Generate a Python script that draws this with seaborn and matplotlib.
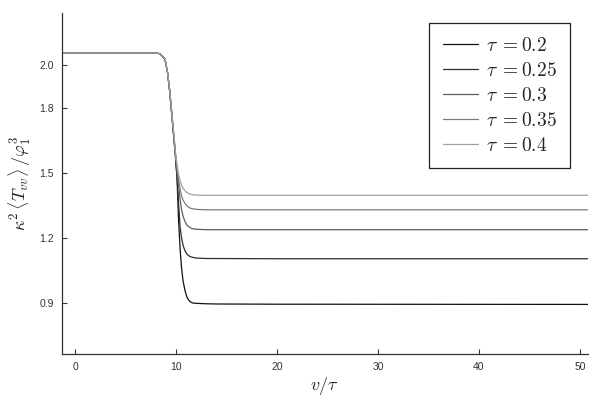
import pandas as pd
import matplotlib
matplotlib.use('Agg')
import matplotlib.pyplot as plt
import seaborn as sns

# values
v = [-1.3, 8.0, 8.4, 8.9, 9.15, 9.35, 9.5, 9.65, 9.8, 9.95, 10.1, 10.25, 10.4,
     10.55, 10.7, 10.9, 11.1, 11.35, 11.6, 12.0, 12.5, 13.0, 14.0, 20.0, 50.8]

t_02 = [2.055, 2.055, 2.052, 2.027, 1.965, 1.885, 1.81, 1.73, 1.65, 1.57, 1.47, 1.28, 1.15,
        1.06, 1.00, 0.955, 0.925, 0.908, 0.901, 0.899, 0.898, 0.897, 0.896, 0.895, 0.894]
t_025 = [2.055, 2.055, 2.052, 2.027, 1.966, 1.887, 1.812, 1.733, 1.655, 1.575, 1.48, 1.36, 1.25,
         1.20, 1.165, 1.14, 1.125, 1.116, 1.112, 1.108, 1.107, 1.106, 1.106, 1.105, 1.105]
t_03 = [2.055, 2.055, 2.052, 2.028, 1.967, 1.889, 1.815, 1.736, 1.66, 1.58, 1.50, 1.445, 1.38,
        1.33, 1.30, 1.275, 1.259, 1.25, 1.244, 1.241, 1.240, 1.239, 1.239, 1.239, 1.239]
t_035 = [2.055, 2.055, 2.052, 2.028, 1.968, 1.891, 1.817, 1.739, 1.665, 1.585, 1.53, 1.47, 1.425,
         1.395, 1.375, 1.36, 1.348, 1.34, 1.336, 1.333, 1.332, 1.331, 1.331, 1.331, 1.331]
t_04 = [2.055, 2.055, 2.052, 2.029, 1.969, 1.893, 1.82, 1.742, 1.67, 1.59, 1.535, 1.495, 1.465,
        1.445, 1.43, 1.418, 1.41, 1.404, 1.401, 1.399, 1.398, 1.398, 1.398, 1.398, 1.398]

labels = [r'$\tau\;=0.2$', r'$\tau\;=0.25$', r'$\tau\;=0.3$', r'$\tau\;=0.35$', r'$\tau\;=0.4$']
colors = ['#111111', '#2e2e2e', '#5e5e5e', '#7c7c7c', '#a0a0a0']

rows = []
for lab, ys in zip(labels, [t_02, t_025, t_03, t_035, t_04]):
    for x, y in zip(v, ys):
        rows.append({'v': x, 'T': y, 'tau': lab})
df = pd.DataFrame(rows)

sns.set_style('ticks')
plt.rcParams['mathtext.fontset'] = 'cm'
plt.rcParams['font.family'] = ['Liberation Sans', 'DejaVu Sans']

fig, ax = plt.subplots(figsize=(6, 4), dpi=100)
fig.subplots_adjust(left=0.1033, right=0.98, bottom=0.115, top=0.9675)

sns.lineplot(data=df, x='v', y='T', hue='tau', hue_order=labels, palette=colors,
             linewidth=0.9, errorbar=None, ax=ax)

ax.set_xlim(-1.3, 50.8)
ax.set_ylim(0.665, 2.24)
ax.set_xticks([0, 10, 20, 30, 40, 50])
ax.set_yticks([0.9, 1.2, 1.5, 1.8, 2.0])
ax.set_yticklabels(['0.9', '1.2', '1.5', '1.8', '2.0'])
ax.tick_params(direction='in', length=3.5, width=0.8, labelsize=7.5,
               labelcolor='#333333', color='#333333')
ax.tick_params(axis='x', pad=6)
ax.tick_params(axis='y', pad=6)

for s in ['top', 'right']:
    ax.spines[s].set_visible(False)
for s in ['left', 'bottom']:
    ax.spines[s].set_color('#333333')
    ax.spines[s].set_linewidth(0.9)

ax.set_xlabel(r'$v/\tau$', fontsize=13, labelpad=2)
ax.set_ylabel(r'$\kappa^2\,\langle T_{vv}\rangle\,/\varphi_1^3$', fontsize=13, labelpad=4)

leg = ax.legend(loc='upper right', bbox_to_anchor=(0.966, 0.971), borderaxespad=0,
                fontsize=14, frameon=True, fancybox=False, framealpha=1,
                edgecolor='#222222', handlelength=1.8, handletextpad=0.4,
                labelspacing=0.36, borderpad=0.7, title=None)
leg.get_frame().set_linewidth(0.9)

fig.savefig('out.png', dpi=100)
